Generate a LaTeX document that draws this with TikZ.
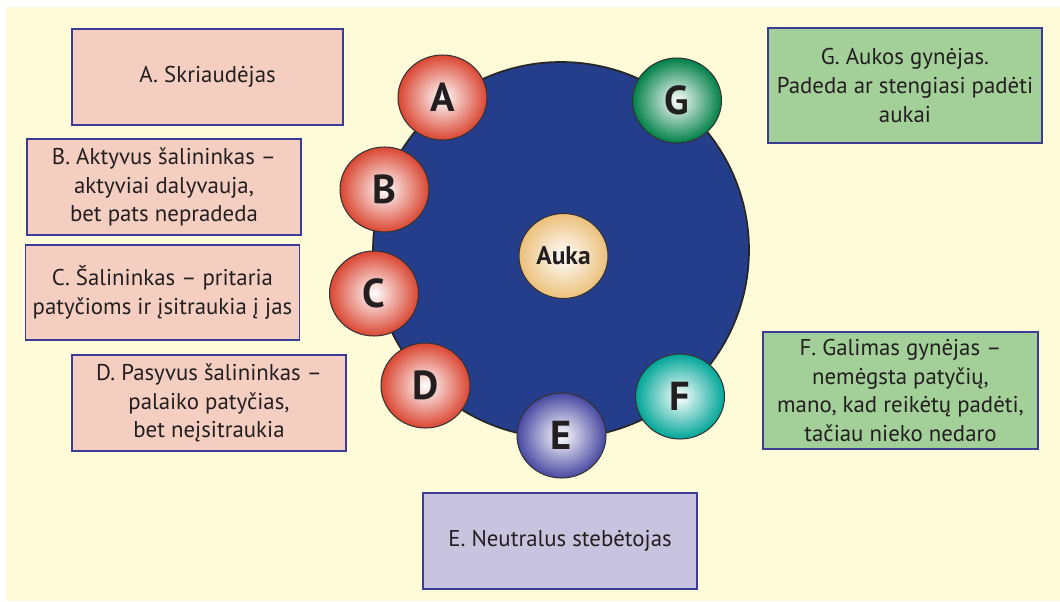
\documentclass[tikz,border=0pt]{standalone}
\usepackage{fontspec}
\setmainfont{PT Sans}
\usetikzlibrary{shapes.geometric}
\definecolor{cream}{RGB}{255,250,216}
\definecolor{pinkbox}{RGB}{244,206,192}
\definecolor{greenbox}{RGB}{163,207,152}
\definecolor{lilacbox}{RGB}{200,196,224}
\definecolor{boxline}{RGB}{60,60,150}
\definecolor{crowd}{RGB}{37,62,140}
\definecolor{redball}{RGB}{218,70,50}
\definecolor{greenball}{RGB}{0,128,72}
\definecolor{tealball}{RGB}{0,166,152}
\definecolor{blueball}{RGB}{72,72,162}
\definecolor{victim}{RGB}{236,192,122}
\definecolor{ink}{RGB}{35,31,32}

\begin{document}
\begin{tikzpicture}[x = .02cm, y = -.02cm,
  role/.style = {rectangle, draw = boxline, line width = .85pt, text = ink, align = center,
                 minimum width = 5.48cm, minimum height = 1.92cm, inner sep = 0pt,
                 font = \fontsize{13}{16.4}\selectfont},
  ball/.style = {ellipse, draw = black!80, line width = .6pt, inner sep = 0pt,
                 minimum width = 1.78cm, minimum height = 1.7cm,
                 inner color = white, outer color = #1, text = ink,
                 font = \fontsize{23}{23}\selectfont\bfseries}]
  \useasboundingbox (0,0) rectangle (1060,601);
  \fill [cream] (6,7) rectangle (1060,601);

  % the group round the victim
  \node (crowd) at (561,250) [circle, draw = black!85, line width = 1pt, fill = crowd, minimum size = 7.52cm] {};
  \node (auka) at (563.5,256) [ball = victim, font = \fontsize{14.5}{14.5}\selectfont\bfseries] {Auka};
  \node (a) at (442.5,97.5) [ball = redball] {A};
  \node (b) at (384.5,189.5) [ball = redball] {B};
  \node (c) at (374,293.5) [ball = redball] {C};
  \node (d) at (425.5,385.5) [ball = redball] {D};
  \node (e) at (561.5,435.5) [ball = blueball] {E};
  \node (f) at (680,396.5) [ball = tealball] {F};
  \node (g) at (677,100.5) [ball = greenball] {G};

  % descriptions
  \node (adesc) at (207.5,77) [role, fill = pinkbox, minimum width = 5.42cm] {A. Skriaudėjas};
  \node (bdesc) at (164,187) [role, fill = pinkbox] {B. Aktyvus šalininkas --\\ aktyviai dalyvauja,\\ bet pats nepradeda};
  \node (cdesc) at (162.5,292.5) [role, fill = pinkbox, minimum height = 1.9cm] {C. Šalininkas -- pritaria\\ patyčioms ir įsitraukia į jas};
  \node (ddesc) at (209,403) [role, fill = pinkbox] {D. Pasyvus šalininkas --\\ palaiko patyčias,\\ bet neįsitraukia};
  \node (edesc) at (560,541) [role, fill = lilacbox] {E. Neutralus stebėtojas};
  \node (fdesc) at (900.5,390.5) [role, fill = greenbox, minimum width = 5.5cm, minimum height = 2.34cm] {F. Galimas gynėjas --\\ nemėgsta patyčių,\\ mano, kad reikėtų padėti,\\ tačiau nieko nedaro};
  \node (gdesc) at (905,85.5) [role, fill = greenbox, minimum height = 2.3cm] {G. Aukos gynėjas.\\ Padeda ar stengiasi padėti\\ aukai};
\end{tikzpicture}
\end{document}
